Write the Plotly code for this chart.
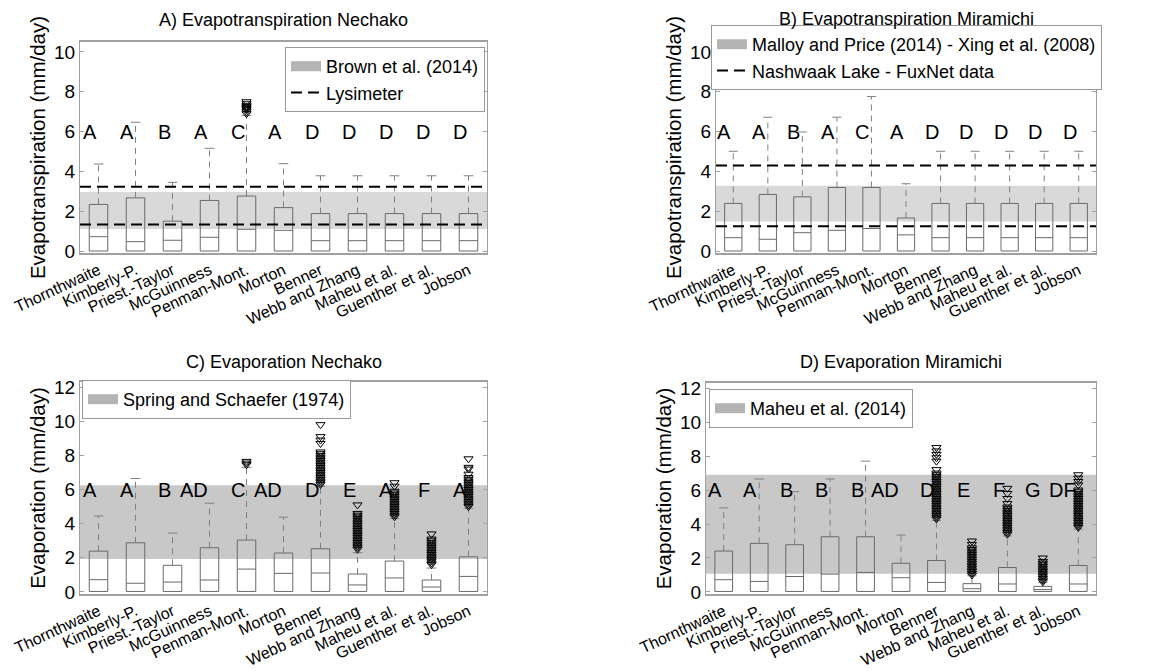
import plotly.graph_objects as go

W, H = 1174, 671
FONT = "Liberation Sans"

methods = ["Thornthwaite", "Kimberly-P.", "Priest.-Taylor", "McGuinness", "Penman-Mont.",
           "Morton", "Benner", "Webb and Zhang", "Maheu et al.", "Guenther et al.", "Jobson"]

# ---------- Panel A: Evapotranspiration Nechako ----------
a_q1 = [0.0] * 11
a_med = [0.72, 0.47, 0.54, 0.69, 1.09, 1.04, 0.52, 0.52, 0.52, 0.52, 0.52]
a_q3 = [2.34, 2.67, 1.50, 2.54, 2.76, 2.18, 1.88, 1.88, 1.88, 1.88, 1.88]
a_whi = [4.37, 6.47, 3.45, 5.16, 6.8, 4.39, 3.78, 3.78, 3.78, 3.78, 3.78]
a_out = {4: [6.9, 7.0, 7.1, 7.15, 7.2, 7.25, 7.3, 7.4, 7.5]}
a_letters = ["A", "A", "B", "A", "C", "A", "D", "D", "D", "D", "D"]
a_band = [1.11, 2.97]
a_lines = [1.33, 3.23]

# ---------- Panel B: Evapotranspiration Miramichi ----------
b_q1 = [0.0] * 11
b_med = [0.67, 0.59, 0.92, 1.04, 1.13, 0.81, 0.67, 0.67, 0.67, 0.67, 0.67]
b_q3 = [2.39, 2.84, 2.72, 3.19, 3.19, 1.66, 2.39, 2.39, 2.39, 2.39, 2.39]
b_whi = [5.01, 6.72, 5.98, 6.72, 7.76, 3.38, 5.01, 5.01, 5.01, 5.01, 5.01]
b_out = {}
b_letters = ["A", "A", "B", "A", "C", "A", "D", "D", "D", "D", "D"]
b_band = [1.48, 3.28]
b_lines = [1.24, 4.29]

# ---------- Panel C: Evaporation Nechako ----------
c_q1 = [0.03] * 11
c_med = [0.72, 0.51, 0.58, 0.70, 1.34, 1.09, 1.11, 0.41, 0.82, 0.29, 0.91]
c_q3 = [2.39, 2.88, 1.56, 2.59, 3.04, 2.28, 2.53, 1.05, 1.81, 0.70, 2.06]
c_whi = [4.45, 6.65, 3.45, 5.2, 7.3, 4.38, 6.2, 2.3, 4.3, 1.4, 4.9]
c_out = {
    4: [7.45, 7.55, 7.65],
    6: [6.3, 6.4, 6.5, 6.6, 6.7, 6.8, 6.9, 7.0, 7.1, 7.2, 7.3, 7.4, 7.5, 7.6, 7.7, 7.8,
        7.9, 8.0, 8.1, 8.2, 8.7, 8.9, 9.1, 9.8],
    7: [2.5, 2.6, 2.7, 2.8, 2.9, 3.0, 3.1, 3.2, 3.3, 3.4, 3.5, 3.6, 3.7, 3.8, 3.9, 4.0,
        4.1, 4.2, 4.3, 4.4, 4.5, 4.6, 5.1],
    8: [4.4, 4.5, 4.6, 4.7, 4.8, 4.9, 5.0, 5.1, 5.2, 5.3, 5.4, 5.5, 5.6, 5.7, 5.8, 5.9,
        6.2, 6.4],
    9: [1.6, 1.7, 1.8, 1.9, 2.0, 2.1, 2.2, 2.3, 2.4, 2.5, 2.6, 2.7, 2.8, 2.9, 3.0, 3.1, 3.4],
    10: [5.0, 5.1, 5.2, 5.3, 5.4, 5.5, 5.6, 5.7, 5.8, 5.9, 6.0, 6.1, 6.2, 6.3, 6.4, 6.5,
         6.6, 6.7, 6.9, 7.2, 7.3, 7.8],
}
c_letters = ["A", "A", "B", "AD", "C", "AD", "D", "E", "A", "F", "A"]
c_band = [1.93, 6.25]

# ---------- Panel D: Evaporation Miramichi ----------
d_q1 = [0.03] * 11
d_med = [0.72, 0.62, 0.91, 1.05, 1.15, 0.84, 0.56, 0.19, 0.47, 0.14, 0.47]
d_q3 = [2.41, 2.86, 2.78, 3.25, 3.25, 1.69, 1.85, 0.49, 1.44, 0.33, 1.56]
d_whi = [4.95, 6.65, 5.9, 6.65, 7.7, 3.35, 4.2, 0.95, 3.3, 0.55, 3.7]
d_out = {
    6: [4.3, 4.4, 4.5, 4.6, 4.7, 4.8, 4.9, 5.0, 5.1, 5.2, 5.3, 5.4, 5.5, 5.6, 5.7, 5.8,
        5.9, 6.0, 6.1, 6.2, 6.3, 6.4, 6.5, 6.6, 6.7, 6.8, 6.9, 7.0, 7.2, 7.7, 7.9, 8.1, 8.3, 8.5],
    7: [1.0, 1.1, 1.2, 1.3, 1.4, 1.5, 1.6, 1.7, 1.8, 1.9, 2.0, 2.1, 2.2, 2.3, 2.4, 2.5,
        2.6, 2.8, 3.0],
    8: [3.4, 3.5, 3.6, 3.7, 3.8, 3.9, 4.0, 4.1, 4.2, 4.3, 4.4, 4.5, 4.6, 4.7, 4.8, 4.9,
        5.0, 5.2, 5.5, 5.8, 6.1],
    9: [0.6, 0.7, 0.8, 0.9, 1.0, 1.1, 1.2, 1.3, 1.4, 1.5, 1.6, 1.7, 1.8, 2.0],
    10: [3.8, 3.9, 4.0, 4.1, 4.2, 4.3, 4.4, 4.5, 4.6, 4.7, 4.8, 4.9, 5.0, 5.1, 5.2, 5.3,
         5.4, 5.5, 5.6, 5.7, 5.8, 5.9, 6.0, 6.3, 6.5, 6.7, 6.9],
}
d_letters = ["A", "A", "B", "B", "B", "AD", "D", "E", "F", "G", "DF"]
d_band = [1.07, 6.9]

panels = [
    dict(ax="", q1=a_q1, med=a_med, q3=a_q3, whi=a_whi, out=a_out, letters=a_letters,
         band=a_band, lines=a_lines, band_color="#d9d9d9",
         band_name="Brown et al. (2014)", line_name="Lysimeter", legend="legend",
         title="A) Evapotranspiration Nechako", ytitle="Evapotranspiration (mm/day)",
         yrange=[-0.1, 10.5], ytick=[0, 2, 4, 6, 8, 10],
         dom_x=[80, 487], dom_y=[42, 253], title_y=20, leg=(285, 47)),
    dict(ax="2", q1=b_q1, med=b_med, q3=b_q3, whi=b_whi, out=b_out, letters=b_letters,
         band=b_band, lines=b_lines, band_color="#d9d9d9",
         band_name="Malloy and Price (2014) - Xing et al. (2008)",
         line_name="Nashwaak Lake - FuxNet data", legend="legend2",
         title="B) Evapotranspiration Miramichi", ytitle="Evapotranspiration (mm/day)",
         yrange=[-0.1, 10.5], ytick=[0, 2, 4, 6, 8, 10],
         dom_x=[716, 1096], dom_y=[42, 253], title_y=19, leg=(711, 25)),
    dict(ax="3", q1=c_q1, med=c_med, q3=c_q3, whi=c_whi, out=c_out, letters=c_letters,
         band=c_band, lines=None, band_color="#c8c8c8",
         band_name="Spring and Schaefer (1974)", line_name=None, legend="legend3",
         title="C) Evaporation Nechako", ytitle="Evaporation (mm/day)",
         yrange=[-0.12, 12.3], ytick=[0, 2, 4, 6, 8, 10, 12],
         dom_x=[80, 487], dom_y=[382, 594], title_y=362, leg=(82, 380)),
    dict(ax="4", q1=d_q1, med=d_med, q3=d_q3, whi=d_whi, out=d_out, letters=d_letters,
         band=d_band, lines=None, band_color="#c8c8c8",
         band_name="Maheu et al. (2014)", line_name=None, legend="legend4",
         title="D) Evaporation Miramichi", ytitle="Evaporation (mm/day)",
         yrange=[-0.12, 12.3], ytick=[0, 2, 4, 6, 8, 10, 12],
         dom_x=[706, 1096], dom_y=[383, 594], title_y=362, leg=(709, 389)),
]

fig = go.Figure()
shapes = []
annotations = []
layout = {}
idx = list(range(len(methods)))
BOXW = 0.5
CAP = 0.13
GRAY = "#6a6a6a"

for p in panels:
    xa, ya = "x" + p["ax"], "y" + p["ax"]
    # shaded reference band
    shapes.append(dict(type="rect", xref=xa + " domain", yref=ya, x0=0, x1=1,
                       y0=p["band"][0], y1=p["band"][1], fillcolor=p["band_color"],
                       line=dict(width=0), layer="below"))
    # legend entry for band
    fig.add_trace(go.Scatter(x=[None], y=[None], mode="lines",
                             line=dict(color="#b4b4b4", width=16), name=p["band_name"],
                             legend=p["legend"], xaxis=xa, yaxis=ya, hoverinfo="skip"))
    # boxes
    fig.add_trace(go.Box(x=idx, q1=p["q1"], median=p["med"], q3=p["q3"],
                         lowerfence=p["q1"], upperfence=p["q3"], width=BOXW,
                         whiskerwidth=0, fillcolor="rgba(0,0,0,0)",
                         line=dict(color=GRAY, width=1), showlegend=False,
                         xaxis=xa, yaxis=ya, hoverinfo="skip"))
    # whiskers (dashed)
    wx, wy, cx, cy = [], [], [], []
    for i in idx:
        wx += [i, i, None]
        wy += [p["q3"][i], p["whi"][i], None]
        cx += [i - CAP, i + CAP, None]
        cy += [p["whi"][i], p["whi"][i], None]
    fig.add_trace(go.Scatter(x=wx, y=wy, mode="lines",
                             line=dict(color="#808080", width=1, dash="6px,5px"),
                             showlegend=False, xaxis=xa, yaxis=ya, hoverinfo="skip"))
    fig.add_trace(go.Scatter(x=cx, y=cy, mode="lines",
                             line=dict(color="#808080", width=1),
                             showlegend=False, xaxis=xa, yaxis=ya, hoverinfo="skip"))
    # outliers
    ox, oy = [], []
    for i, vals in p["out"].items():
        ox += [i] * len(vals)
        oy += vals
    if ox:
        fig.add_trace(go.Scatter(x=ox, y=oy, mode="markers",
                                 marker=dict(symbol="triangle-down-open", size=8,
                                             color="black", line=dict(width=1)),
                                 showlegend=False, xaxis=xa, yaxis=ya, hoverinfo="skip"))
    # dashed reference lines
    if p["lines"]:
        for v in p["lines"]:
            shapes.append(dict(type="line", xref=xa + " domain", yref=ya, x0=0, x1=1,
                               y0=v, y1=v, line=dict(color="black", width=2, dash="11px,6px"),
                               layer="above"))
        fig.add_trace(go.Scatter(x=[None], y=[None], mode="lines",
                                 line=dict(color="black", width=2, dash="11px,6px"),
                                 name=p["line_name"], legend=p["legend"],
                                 xaxis=xa, yaxis=ya, hoverinfo="skip"))
    # significance letters
    for i, t in enumerate(p["letters"]):
        annotations.append(dict(x=i, y=6, xref=xa, yref=ya, text=t, showarrow=False,
                                xanchor="right", yanchor="middle",
                                font=dict(family=FONT, size=20, color="black")))
    # panel title
    annotations.append(dict(x=(p["dom_x"][0] + p["dom_x"][1]) / 2 / W, y=1 - p["title_y"] / H,
                            xref="paper", yref="paper", text=p["title"], showarrow=False,
                            xanchor="center", yanchor="middle",
                            font=dict(family=FONT, size=18, color="black")))
    # axes
    xkey = "xaxis" + p["ax"]
    ykey = "yaxis" + p["ax"]
    layout[xkey] = dict(domain=[p["dom_x"][0] / W, p["dom_x"][1] / W], anchor=ya,
                        automargin=False,
                        range=[-0.5, 10.5], tickvals=idx, ticktext=methods, tickangle=-25,
                        ticks="", showline=True, linecolor="#a0a0a0", linewidth=2,
                        mirror=True, showgrid=False, zeroline=False,
                        tickfont=dict(family=FONT, size=16, color="black"))
    layout[ykey] = dict(domain=[1 - p["dom_y"][1] / H, 1 - p["dom_y"][0] / H], anchor=xa,
                        automargin=False,
                        range=p["yrange"], tickvals=p["ytick"], ticks="inside", ticklen=4,
                        tickcolor="#a0a0a0", showline=True, linecolor="#a0a0a0", linewidth=1,
                        mirror="ticks", showgrid=False, zeroline=False,
                        tickfont=dict(family=FONT, size=19, color="black"),
                        title=dict(text=p["ytitle"], standoff=2,
                                   font=dict(family=FONT, size=20.5, color="black")))
    layout[p["legend"]] = dict(x=p["leg"][0] / W, y=1 - p["leg"][1] / H, xanchor="left",
                               yanchor="top", bgcolor="white", bordercolor="#999999",
                               borderwidth=1, itemwidth=30, tracegroupgap=0,
                               font=dict(family=FONT, size=18, color="black"))

fig.update_layout(width=W, height=H, autosize=False, margin=dict(l=0, r=0, t=0, b=0),
                  paper_bgcolor="white", plot_bgcolor="rgba(0,0,0,0)",
                  shapes=shapes, annotations=annotations, showlegend=True, **layout)

fig.write_html("out.html")
